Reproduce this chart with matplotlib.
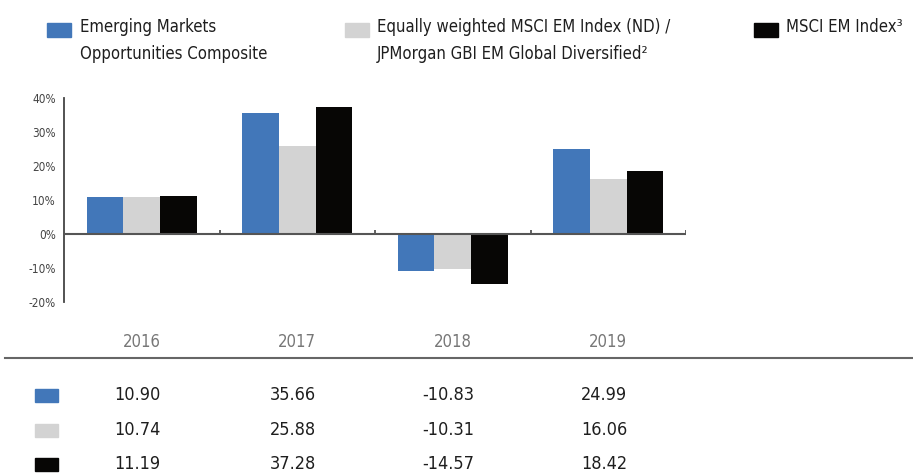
import matplotlib
matplotlib.use("Agg")
import matplotlib.pyplot as plt
from matplotlib.patches import Rectangle
from matplotlib.lines import Line2D
import numpy as np

# data
years = ["2016", "2017", "2018", "2019"]
composite = [10.90, 35.66, -10.83, 24.99]
equal_weighted = [10.74, 25.88, -10.31, 16.06]
msci_em = [11.19, 37.28, -14.57, 18.42]
y_ticks = [-20, -10, 0, 10, 20, 30, 40]

colors = ["#4277b9", "#d3d3d3", "#070605"]
series = [composite, equal_weighted, msci_em]

plt.rcParams['font.family'] = ['DejaVu Sans']
plt.rcParams['font.stretch'] = 'condensed'

fig = plt.figure(figsize=(9.13, 4.75), dpi=100)
W, H = 913.0, 475.0

def fx(px):
    return px / W

def fy(py):
    return 1 - py / H

ax = fig.add_axes([fx(64), fy(302), fx(686) - fx(64), fy(98) - fy(302)])

x = np.arange(len(years))
bw = 0.236
for k, (vals, c) in enumerate(zip(series, colors)):
    ax.bar(x + (k - 1) * bw, vals, width=bw, color=c, zorder=2)

ax.set_xlim(-0.5, len(years) - 0.5)
ax.set_ylim(-20, 40)
ax.axhline(0, color="#555555", lw=1.5, zorder=3)
# small separator ticks between categories
ax.vlines(x + 0.5, 0, 1.3, color="#555555", lw=1.3, zorder=3)

ax.set_yticks(y_ticks)
ax.set_yticklabels([f"{v}%" for v in y_ticks])
ax.tick_params(axis="y", length=0, pad=6, labelsize=8.5, labelcolor="#444444")
ax.set_xticks(x)
ax.set_xticklabels(years)
ax.tick_params(axis="x", length=0, pad=22, labelsize=12, labelcolor="#777777")
for s in ["top", "right", "bottom"]:
    ax.spines[s].set_visible(False)
ax.spines["left"].set_color("#444444")
ax.spines["left"].set_linewidth(1.3)

# legend
legend_items = [
    (47, 80, "Emerging Markets\nOpportunities Composite"),
    (345, 377, "Equally weighted MSCI EM Index (ND) /\nJPMorgan GBI EM Global Diversified\u00b2"),
    (754, 786, "MSCI EM Index\u00b3"),
]
for (sx, tx, label), c in zip(legend_items, colors):
    fig.add_artist(Rectangle((fx(sx), fy(37)), fx(24), fy(23) - fy(37),
                             transform=fig.transFigure, color=c))
    fig.text(fx(tx), fy(18), label, ha="left", va="top", fontsize=12,
             color="#1e1e1e", linespacing=1.65)

# separator line
fig.add_artist(Line2D([fx(5), 1.0], [fy(358), fy(358)], transform=fig.transFigure,
                      color="#666666", lw=1.5))

# table of values
row_y = [395, 430, 464]
for vals, c, ry in zip(series, colors, row_y):
    fig.add_artist(Rectangle((fx(35), fy(ry + 7)), fx(23), fy(ry - 6) - fy(ry + 7),
                             transform=fig.transFigure, color=c))
    for i, v in enumerate(vals):
        xp = ax.transData.transform((x[i], 0))[0] / fig.dpi / fig.get_figwidth() - fx(4)
        fig.text(xp, fy(ry), f"{v:.2f}", ha="center", va="center", fontsize=13,
                 color="#1e1e1e")

fig.savefig("out.png", dpi=100)
